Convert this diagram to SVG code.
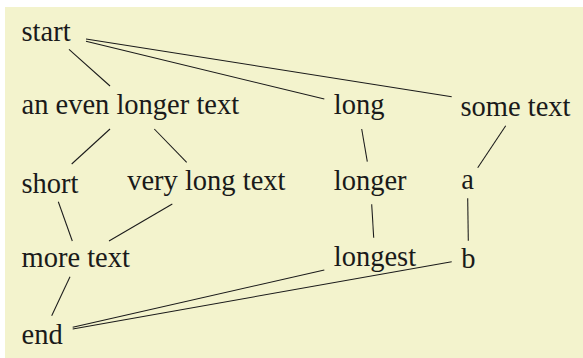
<svg xmlns="http://www.w3.org/2000/svg" width="583" height="358" viewBox="0 0 583 358">
<rect x="5" y="7" width="578" height="351" fill="#f3f3cd"/>
<g id="connectors" stroke="#1a1a1a" stroke-width="1.05" fill="none">
<line x1="69" y1="49.3" x2="110" y2="86"/>
<line x1="86" y1="41.3" x2="324.3" y2="99"/>
<line x1="86" y1="39" x2="451.7" y2="96.7"/>
<line x1="110" y1="129" x2="71.7" y2="164"/>
<line x1="154.3" y1="129" x2="186.7" y2="162.3"/>
<line x1="361.7" y1="129" x2="367.3" y2="161.7"/>
<line x1="505.7" y1="125.7" x2="477.7" y2="167.7"/>
<line x1="58.3" y1="201.7" x2="72.3" y2="241"/>
<line x1="172.3" y1="204" x2="109" y2="241"/>
<line x1="371.7" y1="204.3" x2="373.7" y2="237.7"/>
<line x1="467.7" y1="198.3" x2="468.3" y2="240.7"/>
<line x1="70" y1="276.7" x2="51.7" y2="315.7"/>
<line x1="72.7" y1="327.3" x2="324.3" y2="270"/>
<line x1="72.7" y1="329" x2="451.7" y2="261.7"/>
</g>
<g id="start"><text x="21.5" y="40.7" font-family="Liberation Serif" font-size="28.5" fill="#1a1a1a">start</text></g>
<g id="an-even-longer-text"><text x="21.5" y="113.5" font-family="Liberation Serif" font-size="28.5" fill="#1a1a1a">an even longer text</text></g>
<g id="long"><text x="333.8" y="113.5" font-family="Liberation Serif" font-size="28.5" fill="#1a1a1a">long</text></g>
<g id="some-text"><text x="460.5" y="115.8" font-family="Liberation Serif" font-size="28.5" fill="#1a1a1a">some text</text></g>
<g id="short"><text x="21.5" y="192.6" font-family="Liberation Serif" font-size="28.5" fill="#1a1a1a">short</text></g>
<g id="very-long-text"><text x="127.2" y="190.2" font-family="Liberation Serif" font-size="28.5" fill="#1a1a1a">very long text</text></g>
<g id="longer"><text x="333.8" y="190.2" font-family="Liberation Serif" font-size="28.5" fill="#1a1a1a">longer</text></g>
<g id="a"><text x="461.2" y="189.3" font-family="Liberation Serif" font-size="28.5" fill="#1a1a1a">a</text></g>
<g id="more-text"><text x="21.5" y="267.4" font-family="Liberation Serif" font-size="28.5" fill="#1a1a1a">more text</text></g>
<g id="longest"><text x="333.8" y="266" font-family="Liberation Serif" font-size="28.5" fill="#1a1a1a">longest</text></g>
<g id="b"><text x="461.2" y="267.8" font-family="Liberation Serif" font-size="28.5" fill="#1a1a1a">b</text></g>
<g id="end"><text x="21.5" y="344" font-family="Liberation Serif" font-size="28.5" fill="#1a1a1a">end</text></g>
</svg>
